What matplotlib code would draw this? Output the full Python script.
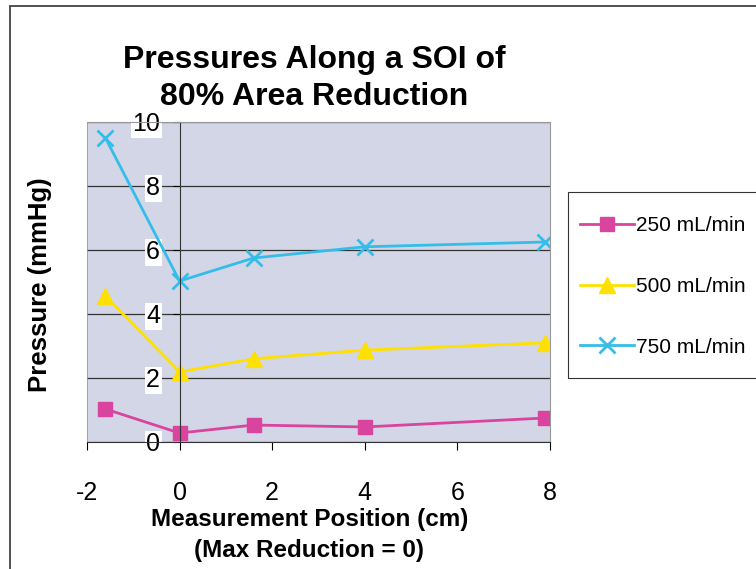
import matplotlib
matplotlib.use("Agg")
import matplotlib.pyplot as plt
from matplotlib.patches import Rectangle

plt.rcParams['font.family'] = ['Liberation Sans', 'DejaVu Sans']
plt.rcParams['axes.unicode_minus'] = False

positions = [-1.6, 0.0, 1.6, 4.0, 7.9]
p250 = [1.03, 0.28, 0.53, 0.47, 0.75]
p500 = [4.56, 2.19, 2.6, 2.87, 3.1]
p750 = [9.5, 5.03, 5.75, 6.1, 6.25]

series = [
    ("250 mL/min", p250, "#d8449e", "s", 10, 1.0),
    ("500 mL/min", p500, "#ffe000", "^", 11, 1.0),
    ("750 mL/min", p750, "#35bde9", "x", 11, 2.0),
]

fig = plt.figure(figsize=(7.56, 5.69), dpi=100)
# outer chart border
fig.patches.append(Rectangle((0.013, -0.05), 1.1, 1.04, transform=fig.transFigure,
                             fill=False, edgecolor="#333333", linewidth=1.2))
# legend box
fig.patches.append(Rectangle((0.7513, 0.3357), 0.3, 0.3269, transform=fig.transFigure,
                             fill=False, edgecolor="#333333", linewidth=0.8))

ax = fig.add_axes([0.115, 0.2232, 0.6125, 0.5624])
ax.set_facecolor("#d3d6e6")

for label, vals, color, marker, ms, mew in series:
    ax.plot(positions, vals, color=color, marker=marker, markersize=ms,
            markeredgewidth=mew, linewidth=2, label=label)

ax.set_xlim(-2, 8)
ax.set_ylim(0, 10)
ax.set_xticks(range(-2, 9, 2))
ax.set_yticks(range(0, 11, 2))
ax.yaxis.grid(True, color="#333333", linewidth=0.9)
ax.set_axisbelow(True)

for side in ["top", "right"]:
    ax.spines[side].set_color("#999999")
ax.spines["left"].set_position(("data", 0))
ax.spines["left"].set_color("#333333")
ax.spines["bottom"].set_color("#333333")

ax.tick_params(axis="x", direction="out", length=6, labelsize=18, pad=22)
ax.tick_params(axis="y", direction="out", length=5, labelsize=18, pad=9)
for t in ax.get_yticklabels():
    t.set_bbox(dict(facecolor="white", edgecolor="none", pad=1))

# left edge of plot area
ax.axvline(-2, color="#999999", linewidth=1.2)

ax.set_title("Pressures Along a SOI of\n80% Area Reduction", fontsize=23,
             fontweight="bold", x=0.49, pad=12, linespacing=1.3)
ax.set_xlabel("Measurement Position (cm)\n(Max Reduction = 0)", fontsize=17.5,
              fontweight="bold", labelpad=2, linespacing=1.45, x=0.48)
fig.text(0.053, 0.5, "Pressure (mmHg)", rotation=90, fontsize=18.5,
         fontweight="bold", ha="center", va="center")

fig.legend(loc="upper left", bbox_to_anchor=(0.754, 0.638), fontsize=15,
           frameon=False, borderpad=0, labelspacing=2.0,
           handlelength=2.55, handletextpad=0.12)

fig.savefig("out.png", dpi=100)
